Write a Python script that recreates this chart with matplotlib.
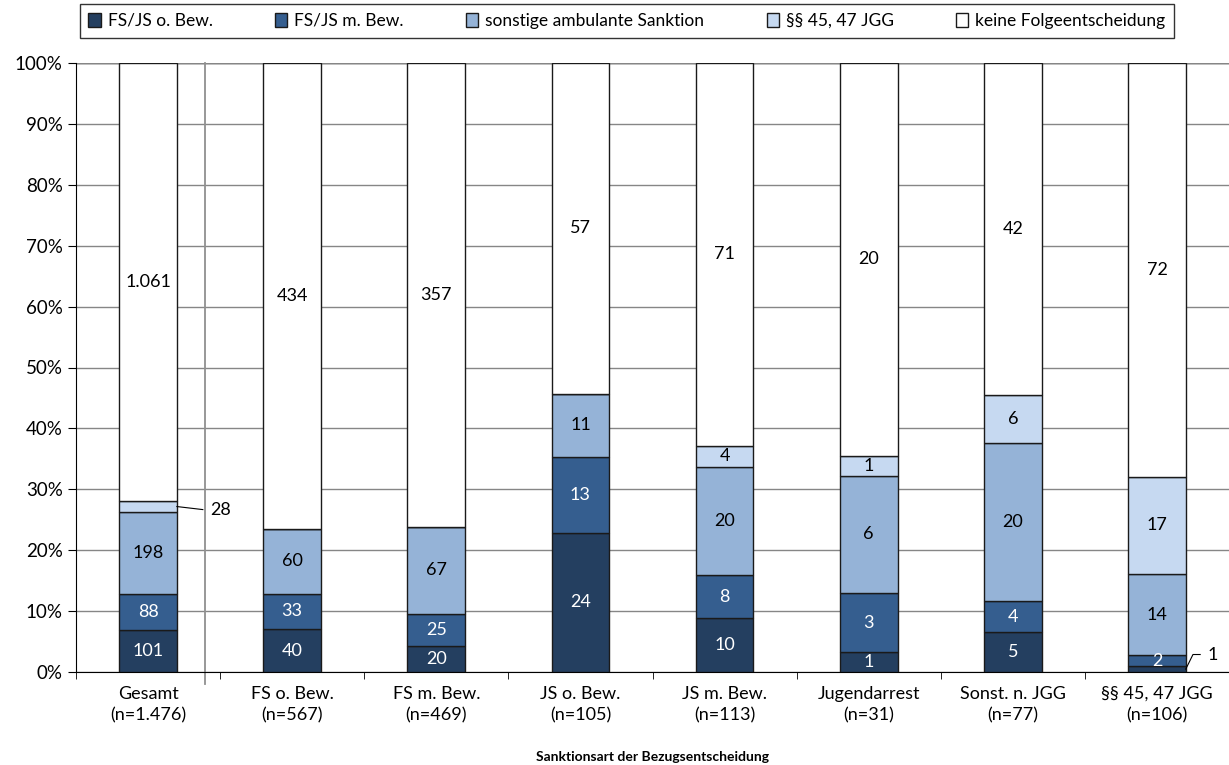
import numpy as np
import matplotlib.pyplot as plt

plt.rcParams['font.family'] = ['Lato', 'DejaVu Sans']

categories = ['Gesamt\n(n=1.476)', 'FS o. Bew.\n(n=567)', 'FS m. Bew.\n(n=469)',
              'JS o. Bew.\n(n=105)', 'JS m. Bew.\n(n=113)', 'Jugendarrest\n(n=31)',
              'Sonst. n. JGG\n(n=77)', '§§ 45, 47 JGG\n(n=106)']
series = ['FS/JS o. Bew.', 'FS/JS m. Bew.', 'sonstige ambulante Sanktion',
          '§§ 45, 47 JGG', 'keine Folgeentscheidung']
fsjs_ohne = [101, 40, 20, 24, 10, 1, 5, 1]
fsjs_mit = [88, 33, 25, 13, 8, 3, 4, 2]
sonst_amb = [198, 60, 67, 11, 20, 6, 20, 14]
jgg_4547 = [28, 0, 0, 0, 4, 1, 6, 17]
keine = [1061, 434, 357, 57, 71, 20, 42, 72]
label_text = ['1.061', '434', '357', '57', '71', '20', '42', '72']

colors = ['#243F60', '#355E8F', '#95B3D7', '#C6D9F1', '#FFFFFF']
text_colors = ['white', 'white', 'black', 'black', 'black']

counts = np.array([fsjs_ohne, fsjs_mit, sonst_amb, jgg_4547, keine], dtype=float)
totals = counts.sum(axis=0)
pct = counts / totals * 100

fig = plt.figure(figsize=(12.29, 7.65), dpi=100)
ax = fig.add_axes([76 / 1229, 1 - 672 / 765, 1 - 76 / 1229, (672 - 63) / 765])

x = np.arange(len(categories))
w = 0.4
bottom = np.zeros(len(categories))
for i, name in enumerate(series):
    ax.bar(x, pct[i], w, bottom=bottom, color=colors[i], edgecolor='#1a1a1a',
           linewidth=1, label=name, zorder=3)
    for j in range(len(categories)):
        v = counts[i, j]
        if v == 0:
            continue
        mid = bottom[j] + pct[i, j] / 2
        txt = label_text[j] if i == 4 else str(int(v))
        # small segments get a leader line
        if (i == 3 and j == 0):
            ax.plot([x[j] + w / 2, x[j] + w / 2 + 0.18], [mid, mid - 0.5], color='black', lw=0.8, zorder=4)
            ax.text(x[j] + w / 2 + 0.23, mid - 0.5, txt, ha='left', va='center', fontsize=13, color='black')
            continue
        if (i == 0 and j == 7):
            ax.plot([x[j] + w / 2, x[j] + w / 2 + 0.05, x[j] + w / 2 + 0.1],
                    [mid, mid + 2.4, mid + 2.4], color='black', lw=0.8, zorder=4, clip_on=False)
            ax.text(x[j] + w / 2 + 0.15, mid + 2.4, txt, ha='left', va='center', fontsize=13, color='black')
            continue
        ax.text(x[j], mid, txt, ha='center', va='center', fontsize=13, color=text_colors[i], zorder=5)
    bottom += pct[i]

ax.set_xlim(-0.5, len(categories) - 0.5)
ax.set_ylim(0, 100)
ax.set_yticks(np.arange(0, 101, 10))
ax.set_yticklabels([f'{v}%' for v in range(0, 101, 10)], fontsize=13.5)
ax.set_xticks(x)
ax.set_xticklabels(categories, fontsize=13, linespacing=1.4)
ax.set_xticks(np.arange(-0.5, len(categories), 1), minor=True)
ax.tick_params(axis='x', which='major', length=0, pad=10)
ax.tick_params(axis='x', which='minor', length=5, direction='out', color='black')
ax.tick_params(axis='y', length=6, direction='out', color='black')
ax.grid(axis='y', color='#868686', lw=1, zorder=0)
for s in ['top', 'right']:
    ax.spines[s].set_visible(False)
ax.spines['left'].set_color('black')
ax.spines['bottom'].set_color('black')
ax.axhline(100, color='black', lw=1, zorder=1)

# separator between Gesamt and the single categories
ax.plot([0.396, 0.396], [-2, 100], color='#909090', lw=1.3, clip_on=False, zorder=2)

ax.set_xlabel('Sanktionsart der Bezugsentscheidung', fontsize=10, fontweight='bold', labelpad=20)

leg = fig.legend(loc='upper center', bbox_to_anchor=(627 / 1229, 1 - 4 / 765), ncol=5,
                 fontsize=12.5, frameon=True, fancybox=False, edgecolor='black',
                 handlelength=0.7, handleheight=0.9, handletextpad=0.4, columnspacing=3.6,
                 borderpad=0.5, borderaxespad=0)
leg.get_frame().set_linewidth(1)

fig.savefig('out.png', dpi=100)
